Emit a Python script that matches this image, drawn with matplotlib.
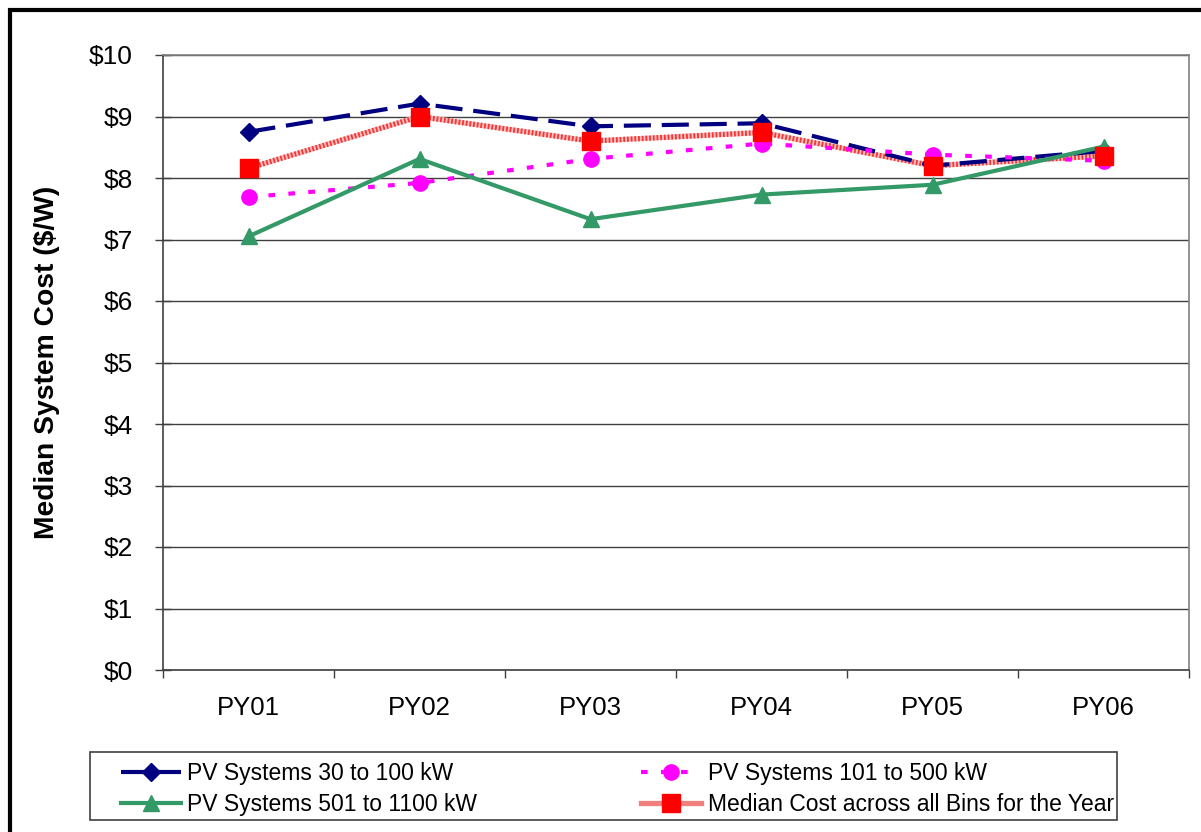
import matplotlib
matplotlib.use("Agg")
import matplotlib.pyplot as plt
from matplotlib.patches import Rectangle
from matplotlib.lines import Line2D
from matplotlib.ticker import FixedLocator, FuncFormatter

plt.rcParams['font.family'] = ['Liberation Sans', 'DejaVu Sans']

years = ["PY01", "PY02", "PY03", "PY04", "PY05", "PY06"]
cost_30_100 = [8.75, 9.21, 8.84, 8.89, 8.20, 8.44]
cost_101_500 = [7.69, 7.92, 8.31, 8.56, 8.38, 8.28]
cost_501_1100 = [7.05, 8.31, 7.33, 7.73, 7.89, 8.51]
cost_all_bins = [8.16, 9.00, 8.60, 8.74, 8.20, 8.36]

labels = ["PV Systems 30 to 100 kW", "PV Systems 101 to 500 kW",
          "PV Systems 501 to 1100 kW", "Median Cost across all Bins for the Year"]

W, H = 1201, 832
fig = plt.figure(figsize=(W / 100, H / 100), dpi=100)
ax = fig.add_axes([163 / W, (H - 670) / H, (1189 - 163) / W, (670 - 55) / H])

x = list(range(len(years)))

# textured median line: light base with red checker overlay
ax.plot(x, cost_all_bins, color='#FFC0C0', lw=3.8, solid_capstyle='butt', zorder=3)
ax.plot(x, cost_all_bins, color='#EE3A3A', lw=3.8, dashes=(0.35, 0.35), zorder=3)
l_a, = ax.plot(x, cost_30_100, color='#000080', lw=3, dashes=(6.5, 2.6),
               marker='D', markersize=9.5, markerfacecolor='#000080',
               markeredgecolor='#000080', zorder=4)
l_b, = ax.plot(x, cost_101_500, color='#FF00FF', lw=3, dashes=(1.6, 3.2),
               marker='o', markersize=11, markerfacecolor='#FF00FF',
               markeredgecolor='#FF00FF', zorder=4)
l_c, = ax.plot(x, cost_501_1100, color='#339966', lw=3,
               marker='^', markersize=11, markerfacecolor='#339966',
               markeredgecolor='#339966', zorder=4)
ax.plot(x, cost_all_bins, ls='none', marker='s', markersize=13,
        markerfacecolor='#FF0000', markeredgecolor='#FF0000', zorder=5)

# legend proxy for the textured median line
l_all = Line2D([], [], color='#F08080', lw=3.8, marker='s', markersize=13,
               markerfacecolor='#FF0000', markeredgecolor='#FF0000')

ax.set_xlim(-0.5, len(years) - 0.5)
ax.set_ylim(0, 10)

ax.yaxis.set_major_locator(FixedLocator(range(0, 11)))
ax.yaxis.set_major_formatter(FuncFormatter(lambda v, p: f"${int(v)}"))
ax.grid(axis='y', color='#404040', lw=1.0, zorder=1)
ax.set_axisbelow(True)

ax.set_xticks(x)
ax.set_xticklabels(years)
ax.xaxis.set_minor_locator(FixedLocator([i - 0.5 for i in range(len(years) + 1)]))
ax.tick_params(axis='x', which='major', length=0, pad=19, labelsize=18.5)
ax.tick_params(axis='x', which='minor', length=6, width=1, direction='out', color='#404040')
ax.tick_params(axis='y', which='major', length=11.5, width=1, direction='inout',
               pad=16, labelsize=19, color='#404040')

for side in ['left', 'bottom']:
    ax.spines[side].set_color('#404040')
    ax.spines[side].set_linewidth(1.2)
for side in ['top', 'right']:
    ax.spines[side].set_color('#808080')
    ax.spines[side].set_linewidth(1.2)

ax.set_ylabel("Median System Cost ($/W)", fontsize=20.3, fontweight='bold')
ax.yaxis.set_label_coords(-0.100, 0.5)

# legend entries laid out row by row (matplotlib fills column-wise)
leg = fig.legend([l_a, l_c, l_b, l_all],
                 [labels[0], labels[2], labels[1], labels[3]],
                 ncol=2, loc='upper left',
                 bbox_to_anchor=(113 / W, (H - 754) / H),
                 fontsize=16.5, frameon=False, handlelength=2.6, handletextpad=0.3,
                 labelspacing=0.36, borderpad=0.35, borderaxespad=0, columnspacing=7.15)

fig.add_artist(Rectangle((90 / W, (H - 820) / H), (1117 - 90) / W, 68 / H,
                         transform=fig.transFigure, fill=False,
                         edgecolor='#404040', lw=1.2))

# outer chart border
fig.add_artist(Rectangle((9.5 / W, -0.1), 1.2, (H - 9.5) / H + 0.1,
                         transform=fig.transFigure, fill=False,
                         edgecolor='black', lw=3))

fig.savefig("out.png", dpi=100)
